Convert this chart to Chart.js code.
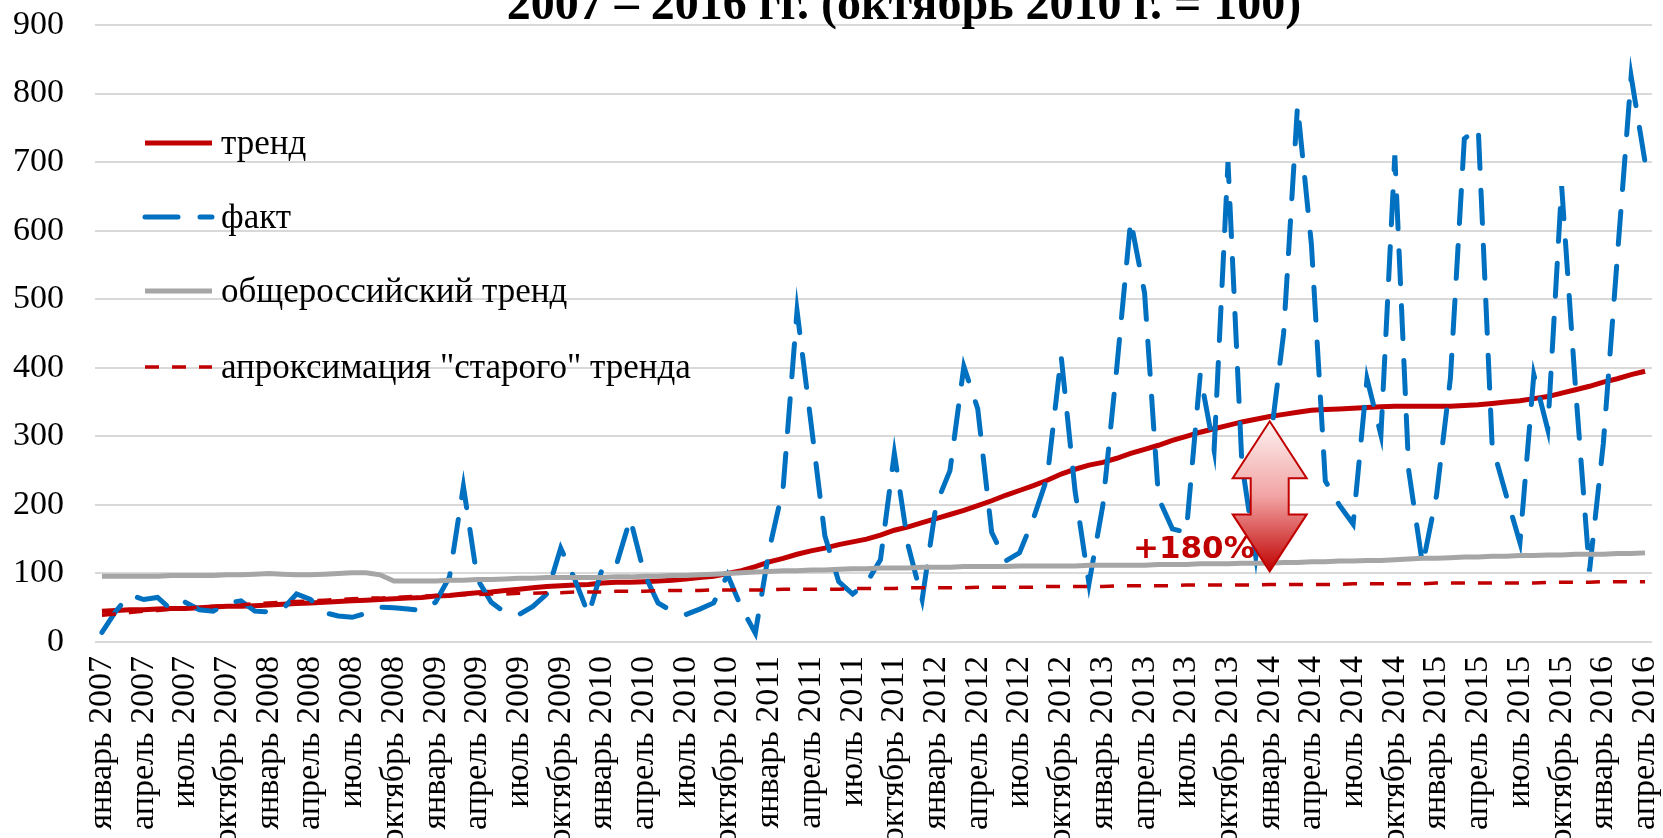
<!DOCTYPE html>
<html>
<head>
<meta charset="utf-8">
<script src="https://cdn.jsdelivr.net/npm/chart.js@4.4.1/dist/chart.umd.min.js"></script>
<style>
  html, body { margin: 0; padding: 0; background: #fff; overflow: hidden; }
</style>
</head>
<body>
<canvas id="trendChart" width="1663" height="838"></canvas>
<script>
Chart.defaults.font.family = '"Liberation Serif", "Times New Roman", serif';
Chart.defaults.font.size = 34;
Chart.defaults.color = '#000';

//data
const monthNames = ['январь', 'февраль', 'март', 'апрель', 'май', 'июнь',
  'июль', 'август', 'сентябрь', 'октябрь', 'ноябрь', 'декабрь'];
const years = [2007, 2008, 2009, 2010, 2011, 2012, 2013, 2014, 2015, 2016];
const monthCount = 112; // январь 2007 .. апрель 2016

const fact = [
  14, 45, 69, 62, 65, 47, 58, 47, 45, 57, 60, 45,
  44, 48, 70, 62, 43, 38, 36, 42, 51, 50, 48, 46,
  58, 95, 227, 92, 58, 43, 40, 52, 70, 137, 92, 40,
  108, 112, 180, 100, 57, 45, 40, 48, 57, 98, 50, 13,
  135, 225, 483, 320, 155, 88, 70, 86, 120, 275, 140, 62,
  200, 250, 402, 340, 160, 118, 130, 180, 240, 417, 220, 85,
  200, 400, 615, 509, 210, 165, 160, 390, 280, 700, 260, 124,
  285, 450, 782, 580, 235, 200, 172, 384, 302, 710, 250, 112,
  214, 385, 734, 750, 287, 215, 145, 390, 310, 665, 370, 103,
  290, 560, 825, 700
];
const trend = [
  45, 46, 47, 47, 48, 49, 49, 50, 51, 52, 52, 53,
  54, 55, 56, 57, 58, 59, 60, 61, 62, 63, 64, 65,
  67, 68, 70, 72, 73, 75, 77, 79, 81, 82, 83, 84,
  86, 87, 87, 88, 89, 90, 92, 94, 96, 100, 104, 110,
  117, 122, 128, 133, 137, 142, 146, 150, 156, 163, 168, 174,
  180, 186, 192, 199, 206, 214, 221, 228, 236, 245, 252, 258,
  262, 268, 275, 281, 287, 294, 300, 306, 311, 316, 321, 325,
  329, 332, 335, 338, 339, 340, 341, 342, 343, 344, 344, 344,
  344, 344, 345, 346, 348, 350, 352, 355, 358, 363, 368, 373,
  379, 384, 390, 395
];
const russiaTrend = [
  96, 96, 96, 96, 96, 97, 97, 97, 97, 98, 98, 99,
  100, 99, 98, 98, 99, 100, 101, 101, 98, 89, 89, 89,
  89, 90, 90, 91, 91, 92, 93, 93, 94, 94, 94, 94,
  94, 95, 95, 96, 96, 97, 97, 98, 99, 100, 101, 102,
  103, 104, 104, 105, 105, 106, 107, 107, 108, 108, 108, 109,
  109, 109, 110, 110, 110, 110, 111, 111, 111, 111, 111, 112,
  112, 112, 112, 112, 113, 113, 113, 114, 114, 114, 115, 115,
  115, 116, 116, 117, 117, 118, 118, 119, 119, 120, 121, 122,
  122, 123, 124, 124, 125, 125, 126, 126, 127, 127, 128, 128,
  128, 129, 129, 130
];
const oldTrend = [
  39, 41, 43, 45, 46, 48, 49, 51, 52, 53, 54, 56,
  57, 58, 59, 60, 61, 62, 63, 64, 64, 65, 66, 67,
  67, 68, 69, 69, 70, 70, 71, 71, 72, 72, 73, 73,
  73, 74, 74, 74, 75, 75, 75, 75, 76, 76, 76, 76,
  76, 77, 77, 77, 77, 77, 78, 78, 78, 78, 79, 79,
  79, 79, 79, 80, 80, 80, 80, 80, 81, 81, 81, 81,
  81, 82, 82, 82, 82, 82, 83, 83, 83, 83, 83, 83,
  84, 84, 84, 84, 84, 84, 85, 85, 85, 85, 85, 85,
  86, 86, 86, 86, 86, 86, 86, 86, 87, 87, 87, 87,
  88, 88, 88, 88
];
const yTicks = [0, 100, 200, 300, 400, 500, 600, 700, 800, 900];

// arrow between the two trends, january 2014
const arrowIndex = 84;
const arrowFrom = 322;
const arrowTo = 103;
const arrowText = '+180%';
const titleText = '2007 – 2016 гг. (октябрь 2010 г. = 100)';

const labels = [];
years.forEach(yr => monthNames.forEach(m => {
  if (labels.length < monthCount) labels.push(m + ' ' + yr);
}));

//plugin: title, legend, arrow
const overlay = {
  id: 'overlay',
  afterDatasetsDraw(chart) {
    const ctx = chart.ctx;
    const x = chart.scales.x, y = chart.scales.y;
    const cx = x.getPixelForValue(arrowIndex);
    const top = y.getPixelForValue(arrowFrom);
    const bot = y.getPixelForValue(arrowTo);
    const hw = 37, sw = 19, hh = 57;
    ctx.save();
    ctx.beginPath();
    ctx.moveTo(cx, top);
    ctx.lineTo(cx + hw, top + hh);
    ctx.lineTo(cx + sw, top + hh);
    ctx.lineTo(cx + sw, bot - hh);
    ctx.lineTo(cx + hw, bot - hh);
    ctx.lineTo(cx, bot);
    ctx.lineTo(cx - hw, bot - hh);
    ctx.lineTo(cx - sw, bot - hh);
    ctx.lineTo(cx - sw, top + hh);
    ctx.lineTo(cx - hw, top + hh);
    ctx.closePath();
    const g = ctx.createLinearGradient(0, top, 0, bot);
    g.addColorStop(0, '#fdf2f2');
    g.addColorStop(0.5, '#f2a3a3');
    g.addColorStop(1, '#c00000');
    ctx.fillStyle = g;
    ctx.fill();
    ctx.strokeStyle = '#c00000';
    ctx.lineWidth = 2;
    ctx.stroke();

    ctx.font = 'bold 31px "DejaVu Sans"';
    ctx.fillStyle = '#c00000';
    ctx.textAlign = 'left';
    ctx.textBaseline = 'alphabetic';
    ctx.fillText(arrowText, 1133, 558);
    ctx.restore();
  },
  afterDraw(chart) {
    const ctx = chart.ctx;
    ctx.save();
    // title (its top is cut off by the picture edge)
    ctx.font = 'bold 48px "Liberation Serif"';
    ctx.fillStyle = '#000';
    ctx.textAlign = 'center';
    ctx.textBaseline = 'alphabetic';
    ctx.fillText(titleText, 904, 19);

    // legend
    const rowsY = [143, 217, 291, 367];
    ctx.font = '35px "Liberation Serif"';
    ctx.textAlign = 'left';
    ctx.textBaseline = 'middle';
    chart.data.datasets.forEach((ds, i) => {
      const ly = rowsY[i];
      ctx.beginPath();
      ctx.setLineDash(ds.borderDash || []);
      ctx.lineCap = ds.borderCapStyle || 'butt';
      ctx.strokeStyle = ds.borderColor;
      ctx.lineWidth = ds.borderWidth;
      ctx.moveTo(145, ly);
      ctx.lineTo(212, ly);
      ctx.stroke();
      ctx.setLineDash([]);
      ctx.fillStyle = '#000';
      ctx.fillText(ds.label, 221, ly + 2);
    });
    ctx.restore();
  }
};

//config
const config = {
  type: 'line',
  data: {
    labels: labels,
    datasets: [{
      label: 'тренд',
      data: trend,
      borderColor: '#c00000',
      borderWidth: 5,
      order: 4
    }, {
      label: 'факт',
      data: fact,
      borderColor: '#0070c0',
      borderWidth: 5,
      borderDash: [33, 22],
      borderCapStyle: 'round',
      order: 3
    }, {
      label: 'общероссийский тренд',
      data: russiaTrend,
      borderColor: '#a6a6a6',
      borderWidth: 5,
      order: 2
    }, {
      label: 'апроксимация "старого" тренда',
      data: oldTrend,
      borderColor: '#c00000',
      borderWidth: 3.5,
      borderDash: [14, 13],
      order: 1
    }]
  },
  options: {
    responsive: false,
    animation: false,
    devicePixelRatio: 1,
    elements: { point: { radius: 0 }, line: { tension: 0, fill: false } },
    layout: { padding: { top: 25, right: 11, left: 0, bottom: 0 } },
    plugins: {
      legend: { display: false },
      tooltip: { enabled: false },
      title: { display: false }
    },
    scales: {
      x: {
        offset: true,
        grid: { display: false, drawTicks: false },
        border: { display: false },
        ticks: {
          autoSkip: false,
          minRotation: 90,
          maxRotation: 90,
          padding: 14,
          callback: function (value, index) {
            return index % 3 === 0 ? this.getLabelForValue(value) : '';
          }
        },
        afterFit(scale) {
          scale.height = 196;
          scale.paddingLeft = 0;
          scale.paddingRight = 0;
        }
      },
      y: {
        min: 0,
        max: 900,
        afterBuildTicks(scale) {
          scale.ticks = yTicks.map(v => ({ value: v }));
        },
        grid: { color: '#d9d9d9', lineWidth: 2, drawTicks: false },
        border: { display: false },
        ticks: { padding: 31 },
        afterFit(scale) {
          scale.width = 95;
          scale.paddingTop = 0;
          scale.paddingBottom = 0;
        }
      }
    }
  },
  plugins: [overlay]
};

//render init
const trendChart = new Chart(document.getElementById('trendChart'), config);
</script>
</body>
</html>
